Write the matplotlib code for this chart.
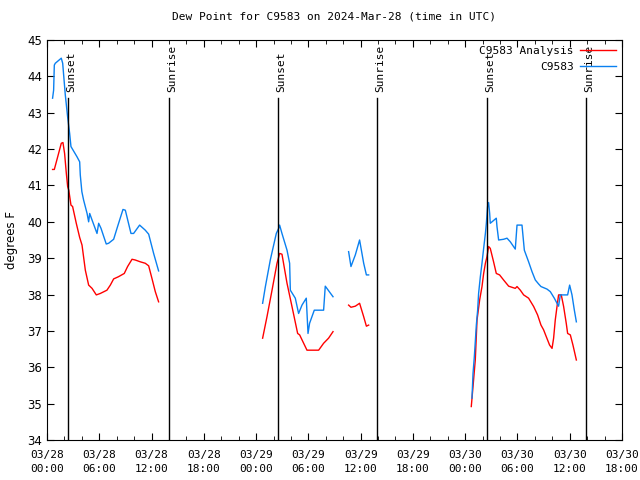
import numpy as np
import matplotlib.pyplot as plt

# hours since 03/28 00:00 UTC; nan = gap in record
obs_hours = [0.64, 0.76, 0.84, 0.95, 1.64, 1.8, 2.1, 2.36, 2.6, 2.75, 3.44, 3.75, 3.82, 4.0,
             4.2, 4.6, 4.78, 4.9, 5.17, 5.74, 5.93, 6.2, 6.8, 7.07, 7.65, 8.1, 8.72, 8.99,
             9.64, 9.94, 10.63, 11.28, 11.67, 12.24, 12.81, np.nan,
             24.75, 25.06, 25.63, 26.32, 26.59, 26.7, 26.97, 27.55, 27.85, 27.93, 28.5, 28.88,
             29.27, 29.76, 29.96, 30.14, 30.68, 31.75, 31.94, 32.83, np.nan,
             34.62, 34.89, 35.39, 35.88, 36.35, 36.66, 36.92, np.nan,
             48.78, 48.9, 49.05, 49.16, 49.28, 49.43, 49.54, 49.74, 49.93, 50.12, 50.32, 50.43,
             50.57, 50.69, 50.81, 50.88, 51.08, 51.57, 51.65, 51.84, 52.41, 52.8, 53.18, 53.75,
             53.95, 54.52, 54.79, 55.28, 55.67, 56.05, 56.43, 56.7, 57.39, 57.77, 58.23, 58.54,
             58.72, 58.92, 59.76, 59.99, 60.26, 60.53, 60.76]
obs_vals = [43.4, 43.62, 44.31, 44.36, 44.5, 44.36, 43.49, 42.9, 42.43, 42.07, 41.79, 41.65, 41.29, 40.83,
            40.6, 40.23, 40.0, 40.23, 40.05, 39.68, 39.96, 39.82, 39.39, 39.41, 39.52, 39.87, 40.34, 40.32,
            39.68, 39.68, 39.91, 39.77, 39.66, 39.13, 38.65, np.nan,
            37.76, 38.21, 38.95, 39.68, 39.82, 39.91, 39.68, 39.22, 38.86, 38.12, 37.9, 37.48,
            37.71, 37.9, 36.93, 37.21, 37.57, 37.57, 38.23, 37.94, np.nan,
            39.18, 38.77, 39.09, 39.5, 38.86, 38.54, 38.54, np.nan,
            35.15, 35.83, 36.29, 36.7, 37.16, 37.57, 38.03, 38.49, 38.86, 39.27, 39.68, 39.96,
            40.42, 40.53, 40.23, 39.96, 40.0, 40.1, 39.87, 39.5, 39.52, 39.55, 39.45, 39.25,
            39.91, 39.91, 39.22, 38.9, 38.63, 38.4, 38.29, 38.22, 38.15, 38.08, 37.9, 37.76,
            37.68, 37.99, 37.99, 38.26, 37.99, 37.57, 37.25]

ana_hours = [0.64, 0.84, 1.33, 1.64, 1.83, 2.02, 2.22, 2.37, 2.5, 2.75, 2.94, 3.36, 3.75, 4.02,
             4.4, 4.78, 5.17, 5.66, 6.12, 6.88, 7.27, 7.65, 8.2, 8.87, 9.25, 9.76, 10.13, 10.71,
             11.28, 11.67, 12.05, 12.43, 12.81, np.nan,
             24.75, 25.25, 25.83, 26.4, 26.7, 26.97, 27.55, 28.12, 28.77, 29.0, 29.84, 31.18,
             31.75, 32.32, 32.83, np.nan,
             34.62, 34.89, 35.39, 35.88, 36.35, 36.66, 36.92, np.nan,
             48.7, 48.9, 49.16, 49.36, 49.66, 49.93, 50.12, 50.32, 50.5, 50.69, 50.88, 51.26,
             51.57, 51.95, 52.41, 52.99, 53.49, 53.75, 53.95, 54.33, 54.71, 55.28, 55.86, 56.31,
             56.7, 57.0, 57.31, 57.69, 57.97, 58.15, 58.34, 58.54, 58.72, 59.03, 59.3, 59.6,
             59.76, 60.07, 60.37, 60.76]
ana_vals = [41.44, 41.44, 41.88, 42.16, 42.18, 41.88, 41.33, 40.97, 40.87, 40.46, 40.42, 39.96, 39.57, 39.36,
            38.67, 38.26, 38.17, 37.99, 38.03, 38.12, 38.26, 38.43, 38.49, 38.58, 38.77, 38.97, 38.95, 38.9,
            38.86, 38.79, 38.44, 38.08, 37.8, np.nan,
            36.8, 37.39, 38.12, 38.86, 39.13, 39.11, 38.31, 37.67, 36.93, 36.89, 36.47, 36.47,
            36.66, 36.8, 36.98, np.nan,
            37.71, 37.65, 37.68, 37.76, 37.39, 37.13, 37.16, np.nan,
            34.92, 35.47, 36.2, 37.3, 37.85, 38.22, 38.58, 38.86, 39.04, 39.32, 39.27, 38.9,
            38.58, 38.54, 38.4, 38.23, 38.19, 38.17, 38.22, 38.12, 37.99, 37.9, 37.67, 37.44,
            37.16, 37.03, 36.84, 36.61, 36.52, 36.8, 37.3, 37.67, 37.99, 37.99, 37.67, 37.21,
            36.93, 36.89, 36.61, 36.2]

sun_hours = [2.36, 13.96, 26.47, 37.88, 50.5, 61.87]
sun_labels = ["Sunset", "Sunrise", "Sunset", "Sunrise", "Sunset", "Sunrise"]

xtick_hours = list(range(0, 67, 6))
xtick_labels = ["03/28\n00:00", "03/28\n06:00", "03/28\n12:00", "03/28\n18:00",
                "03/29\n00:00", "03/29\n06:00", "03/29\n12:00", "03/29\n18:00",
                "03/30\n00:00", "03/30\n06:00", "03/30\n12:00", "03/30\n18:00"]

mono = "DejaVu Sans Mono"

fig = plt.figure(figsize=(6.4, 4.8), dpi=100)
ax = fig.add_axes([47 / 640, 40 / 480, 575 / 640, 400 / 480])

ax.plot(ana_hours, ana_vals, color="#ff0000", lw=1.0, label="C9583 Analysis")
ax.plot(obs_hours, obs_vals, color="#0a80f0", lw=1.0, label="C9583")

for h, name in zip(sun_hours, sun_labels):
    ax.plot([h, h], [34, 43.4], color="black", lw=1.0)
    ax.text(h - 0.2, 43.58, name, rotation=90, ha="left", va="bottom",
            family=mono, fontsize=8)

ax.set_xlim(0, 66)
ax.set_ylim(34, 45)
ax.set_xticks(xtick_hours)
ax.set_xticklabels(xtick_labels, family=mono, fontsize=8, linespacing=1.55)
ax.set_xticks(np.arange(0, 67, 2), minor=True)
ax.set_yticks(range(34, 46))
ax.tick_params(axis="y", labelsize=8.5)
ax.tick_params(axis="x", pad=7)
ax.tick_params(which="both", direction="in", top=True, right=True)
ax.tick_params(which="major", length=5)
ax.tick_params(which="minor", length=3)
ax.set_ylabel("degrees F", fontsize=8.5)
ax.yaxis.set_label_coords(-0.05, 0.5)
ax.set_title("Dew Point for C9583 on 2024-Mar-28 (time in UTC)",
             family=mono, fontsize=8, pad=15)

leg = ax.legend(loc="upper right", frameon=False, prop={"family": mono, "size": 8},
                markerfirst=False, handlelength=3.2, borderaxespad=0.15,
                labelspacing=0.55, handletextpad=0.6)
leg._legend_box.align = "right"

fig.savefig("out.png", dpi=100)
